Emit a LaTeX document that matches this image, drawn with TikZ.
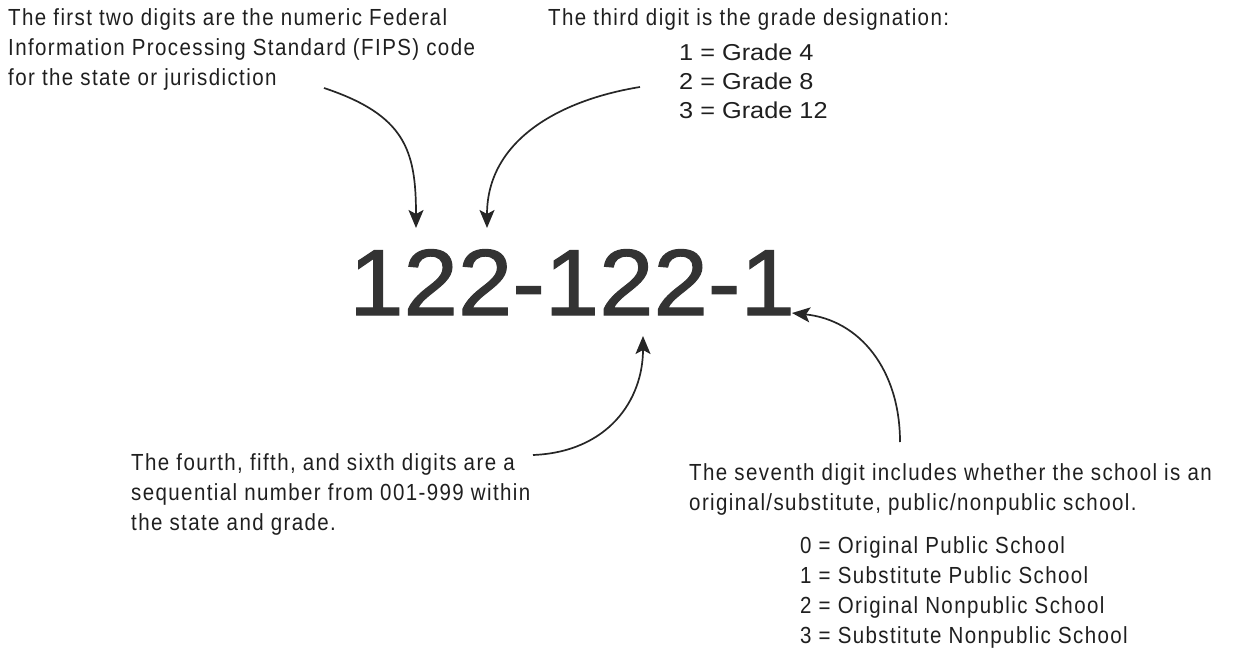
\documentclass[tikz,border=0pt]{standalone}
\usepackage{fontspec}
\setmainfont{Liberation Sans}
\newfontfamily\condfont[FakeStretch=0.88,LetterSpace=6]{Liberation Sans}
\newfontfamily\gradefont[FakeStretch=1.1]{Liberation Sans}
\newfontfamily\numfont[FakeStretch=1.04,FakeBold=1.2]{Liberation Sans}
\usetikzlibrary{arrows.meta}
\begin{document}
\begin{tikzpicture}[x=1pt,y=-1pt,
  cond/.style={font=\condfont\fontsize{23.3}{30}\selectfont, align=left, inner sep=0pt, anchor=north west, text=black!88},
  grade/.style={font=\gradefont\fontsize{23}{29}\selectfont, align=left, inner sep=0pt, anchor=north west, text=black!88},
  bignum/.style={font=\numfont\fontsize{94}{100}\selectfont, inner sep=0pt, anchor=base west, text=black!80},
  pointer/.style={line width=1.7pt, draw=black!85, -{Stealth[length=18pt,width=15pt,inset=4pt]}}]
\useasboundingbox (0,0) rectangle (1238,660);
% texts
\node[cond] (fips) at (8,8) {The first two digits are the numeric Federal\\Information Processing Standard (FIPS) code\\for the state or jurisdiction};
\node[cond] (third) at (548,8) {The third digit is the grade designation:};
\node[grade] (grades) at (679,44) {1 = Grade 4\\2 = Grade 8\\3 = Grade 12};
\node[bignum] (code) at (349,315) {122-122-1};
\node[cond] (seq) at (131,453) {The fourth, fifth, and sixth digits are a\\sequential number from 001-999 within\\the state and grade.};
\node[cond] (seventh) at (689,463) {The seventh digit includes whether the school is an\\original/substitute, public/nonpublic school.};
\node[cond] (types) at (800,536) {0 = Original Public School\\1 = Substitute Public School\\2 = Original Nonpublic School\\3 = Substitute Nonpublic School};
% connector ends
\coordinate (s1) at (324,88);
\coordinate (e1) at (416,228);
\coordinate (s2) at (640,87);
\coordinate (e2) at (487,228);
\coordinate (s3) at (533,455);
\coordinate (e3) at (643,336);
\coordinate (s4) at (900,442);
\coordinate (e4) at (792,313);
% connectors
\draw[pointer] (s1) .. controls (405,115) and (416,150) .. (e1);
\draw[pointer] (s2) .. controls (560,100) and (487,140) .. (e2);
\draw[pointer] (s3) .. controls (608,452) and (643,400) .. (e3);
\draw[pointer] (s4) .. controls (900,370) and (860,320) .. (e4);
\end{tikzpicture}
\end{document}
